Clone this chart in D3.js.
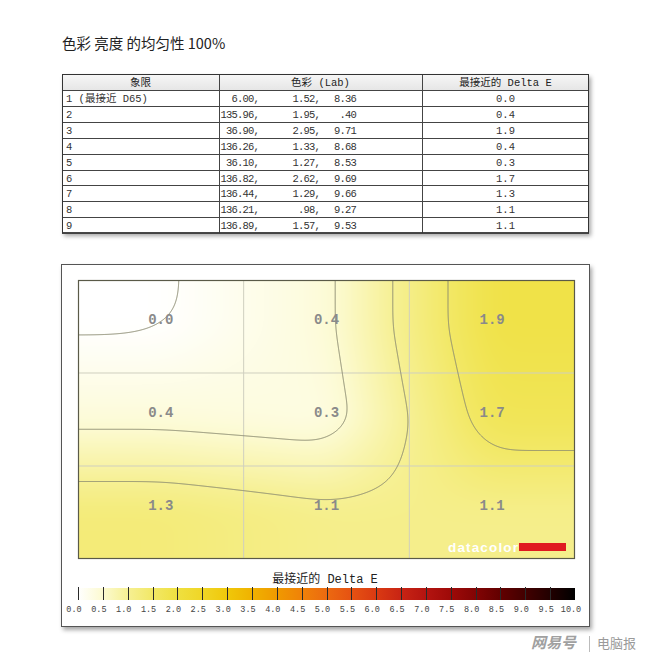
<!DOCTYPE html>
<html><head><meta charset="utf-8">
<script src="https://cdn.jsdelivr.net/npm/d3@7"></script>
<style>
html,body{margin:0;padding:0;background:#fff;}
svg{display:block;}
</style></head>
<body>
<svg id="c" width="660" height="662"></svg>
<script>
// ---------- data ----------
const title = "色彩 亮度 的均匀性 100%";
const headers = ["象限", "色彩 (Lab)", "最接近的 Delta E"];
const quadrants = ["1 (最接近 D65)", "2", "3", "4", "5", "6", "7", "8", "9"];
const labL = ["6.00,", "135.96,", "36.90,", "136.26,", "36.10,", "136.82,", "136.44,", "136.21,", "136.89,"];
const labA = ["1.52,", "1.95,", "2.95,", "1.33,", "1.27,", "2.62,", "1.29,", ".98,", "1.57,"];
const labB = ["8.36", ".40", "9.71", "8.68", "8.53", "9.69", "9.66", "9.27", "9.53"];
const deltaE = [0.0, 0.4, 1.9, 0.4, 0.3, 1.7, 1.3, 1.1, 1.1];
const contourLevels = [0.5, 1.0, 1.5];
const nearLevel = [0.06];
const legendTicks = d3.range(0, 10.001, 0.5);
const legendTitle = "最接近的 Delta E";
const colorStops = [0, 0.5, 1, 1.5, 2, 2.5, 3, 3.5, 4, 4.5, 5, 5.5, 6, 6.5, 7, 7.5, 8, 8.5, 9, 9.5, 10];
const colorValues = ["#ffffff", "#fcfad0", "#f6f094", "#f2e866", "#efe040", "#f0d626", "#f0c80a", "#f0b200", "#f09a00", "#f08208", "#ec6a10", "#e65212", "#da3a12", "#c82414", "#b41410", "#9e0a08", "#820404", "#620000", "#420000", "#220000", "#000000"];

// ---------- setup ----------
const svg = d3.select("#c");
const defs = svg.append("defs");
const sh = defs.append("filter").attr("id", "shadow").attr("x", "-5%").attr("y", "-5%").attr("width", "112%").attr("height", "115%");
sh.append("feDropShadow").attr("dx", 2).attr("dy", 3).attr("stdDeviation", 2).attr("flood-color", "#000").attr("flood-opacity", 0.35);

const color = d3.scaleLinear().domain(colorStops).range(colorValues).clamp(true);

svg.append("text").attr("x", 62).attr("y", 49).text(title)
  .attr("font-family", "'Noto Sans CJK SC', 'Noto Sans', sans-serif").attr("font-size", 14.5).attr("fill", "#222");

// ---------- table ----------
const tbl = {x0: 62, x1: 589, y0: 74, headH: 16, rowH: 15.9};
const colEdges = [62, 219, 422, 589];
const tg = svg.append("g");
const tblH = tbl.headH + quadrants.length * tbl.rowH;
tg.append("rect").attr("x", tbl.x0).attr("y", tbl.y0).attr("width", tbl.x1 - tbl.x0).attr("height", tblH)
  .attr("fill", "#fff").attr("filter", "url(#shadow)");
const hg = defs.append("linearGradient").attr("id", "hdr").attr("x1", 0).attr("x2", 0).attr("y1", 0).attr("y2", 1);
hg.append("stop").attr("offset", 0).attr("stop-color", "#f7f7f7");
hg.append("stop").attr("offset", 1).attr("stop-color", "#e6e6e6");
tg.append("rect").attr("x", tbl.x0).attr("y", tbl.y0).attr("width", tbl.x1 - tbl.x0).attr("height", tbl.headH).attr("fill", "url(#hdr)");
const fontT = "'Liberation Mono', 'Noto Sans CJK SC', monospace";
headers.forEach((h, i) => {
  tg.append("text").attr("x", (colEdges[i] + colEdges[i + 1]) / 2).attr("y", tbl.y0 + 12)
    .attr("text-anchor", "middle").attr("font-family", fontT).attr("font-size", 10.5).attr("fill", "#222").text(h);
});
const rowY = i => tbl.y0 + tbl.headH + i * tbl.rowH;
quadrants.forEach((q, i) => {
  const yy = rowY(i) + 12;
  tg.append("text").attr("x", 66).attr("y", yy).attr("font-family", fontT).attr("font-size", 10.5).attr("fill", "#333").text(q);
  tg.append("text").attr("x", 259).attr("y", yy).attr("text-anchor", "end").attr("font-family", fontT).attr("font-size", 10.5).attr("letter-spacing", -0.8).attr("fill", "#333").text(labL[i]);
  tg.append("text").attr("x", 320).attr("y", yy).attr("text-anchor", "end").attr("font-family", fontT).attr("font-size", 10.5).attr("letter-spacing", -0.8).attr("fill", "#333").text(labA[i]);
  tg.append("text").attr("x", 356).attr("y", yy).attr("text-anchor", "end").attr("font-family", fontT).attr("font-size", 10.5).attr("letter-spacing", -0.8).attr("fill", "#333").text(labB[i]);
  tg.append("text").attr("x", (colEdges[2] + colEdges[3]) / 2).attr("y", yy).attr("text-anchor", "middle").attr("font-family", fontT).attr("font-size", 10.5).attr("fill", "#333").text(deltaE[i].toFixed(1));
});
for (let i = 0; i <= quadrants.length; i++) {
  const yy = Math.round(rowY(i)) + 0.5;
  tg.append("line").attr("x1", tbl.x0).attr("x2", tbl.x1).attr("y1", yy).attr("y2", yy).attr("stroke", "#444").attr("stroke-width", 1);
}
colEdges.slice(1, 3).forEach(xx => {
  tg.append("line").attr("x1", xx + 0.5).attr("x2", xx + 0.5).attr("y1", tbl.y0).attr("y2", tbl.y0 + tblH).attr("stroke", "#444");
});
tg.append("rect").attr("x", tbl.x0 + 0.5).attr("y", tbl.y0 + 0.5).attr("width", tbl.x1 - tbl.x0 - 1).attr("height", tblH - 1)
  .attr("fill", "none").attr("stroke", "#333");

// ---------- chart frame ----------
svg.append("rect").attr("x", 61.5).attr("y", 264.5).attr("width", 528).attr("height", 362)
  .attr("fill", "#fff").attr("stroke", "#555").attr("filter", "url(#shadow)");

const plot = {x0: 78, x1: 575, y0: 280, y1: 559};
const x = d3.scaleLinear().domain([-0.5, 2.5]).range([plot.x0, plot.x1]);
const y = d3.scaleLinear().domain([-0.5, 2.5]).range([plot.y0, plot.y1]);
const grid = [0, 1, 2].map(r => deltaE.slice(r * 3, r * 3 + 3));

// bilinear interpolation between cell centres (edge-clamped), then smoothed
function field(tx, ty) {
  tx = Math.max(0, Math.min(2, tx)); ty = Math.max(0, Math.min(2, ty));
  const i = Math.min(1, Math.floor(tx)), j = Math.min(1, Math.floor(ty));
  const fx = tx - i, fy = ty - j;
  const a = grid[j][i] * (1 - fx) + grid[j][i + 1] * fx;
  const b = grid[j + 1][i] * (1 - fx) + grid[j + 1][i + 1] * fx;
  return a * (1 - fy) + b * fy;
}
const W = plot.x1 - plot.x0, H = plot.y1 - plot.y0;
const raw = new Float64Array(W * H);
for (let py = 0; py < H; py++)
  for (let px = 0; px < W; px++)
    raw[py * W + px] = field(x.invert(plot.x0 + px + 0.5), y.invert(plot.y0 + py + 0.5));

function boxPass(src, w, h, r, horiz) {
  const out = new Float64Array(w * h);
  const n = horiz ? w : h, m = horiz ? h : w;
  for (let k = 0; k < m; k++) {
    const idx = t => horiz ? k * w + Math.max(0, Math.min(w - 1, t)) : Math.max(0, Math.min(h - 1, t)) * w + k;
    let s = 0;
    for (let t = -r; t <= r; t++) s += src[idx(t)];
    for (let t = 0; t < n; t++) {
      out[horiz ? k * w + t : t * w + k] = s / (2 * r + 1);
      s += src[idx(t + r + 1)] - src[idx(t - r)];
    }
  }
  return out;
}
function smooth(src, rx, ry) {
  let v = src;
  for (let p = 0; p < 3; p++) { v = boxPass(v, W, H, rx, true); v = boxPass(v, W, H, ry, false); }
  return v;
}
const values = smooth(raw, 16, 10);
const wide = smooth(raw, 34, 22);

const canvas = document.createElement("canvas");
canvas.width = W; canvas.height = H;
const ctx = canvas.getContext("2d");
const img = ctx.createImageData(W, H);
for (let k = 0; k < W * H; k++) {
  const c = d3.rgb(color(values[k]));
  img.data[4 * k] = c.r; img.data[4 * k + 1] = c.g; img.data[4 * k + 2] = c.b; img.data[4 * k + 3] = 255;
}
ctx.putImageData(img, 0, 0);
defs.append("clipPath").attr("id", "pc").append("rect").attr("x", plot.x0).attr("y", plot.y0).attr("width", W).attr("height", H);
const pg = svg.append("g").attr("clip-path", "url(#pc)");
pg.append("image").attr("x", plot.x0).attr("y", plot.y0).attr("width", W).attr("height", H)
  .attr("href", canvas.toDataURL());

[0.5, 1.5].forEach(v => {
  pg.append("line").attr("x1", x(v)).attr("x2", x(v)).attr("y1", plot.y0).attr("y2", plot.y1).attr("stroke", "#cfcfbf").attr("stroke-width", 1);
  pg.append("line").attr("y1", y(v)).attr("y2", y(v)).attr("x1", plot.x0).attr("x2", plot.x1).attr("stroke", "#cfcfbf").attr("stroke-width", 1);
});

const cg = pg.append("g").attr("transform", `translate(${plot.x0},${plot.y0})`);
const contours = d3.contours().size([W, H]).thresholds(contourLevels)(Array.from(values))
  .concat(d3.contours().size([W, H]).thresholds(nearLevel)(Array.from(wide)));
cg.selectAll("path").data(contours).join("path")
  .attr("d", d3.geoPath())
  .attr("fill", "none").attr("stroke", "#8a8a70").attr("stroke-width", 1);

deltaE.forEach((v, k) => {
  const r = Math.floor(k / 3), c = k % 3;
  svg.append("text").attr("x", x(c)).attr("y", y(r) - 3).attr("text-anchor", "middle")
    .attr("font-family", "'Liberation Mono', 'DejaVu Sans Mono', monospace").attr("font-weight", "bold")
    .attr("font-size", 14).attr("fill", "#8a8a8a").text(v.toFixed(1));
});

svg.append("text").attr("x", 448).attr("y", 552).attr("font-family", "'Liberation Sans', Arial, sans-serif")
  .attr("font-weight", "bold").attr("font-size", 13.5).attr("fill", "#fff").attr("textLength", 70).text("datacolor");
svg.append("rect").attr("x", 519).attr("y", 543).attr("width", 47).attr("height", 8).attr("fill", "#e01a20");

svg.append("rect").attr("x", plot.x0 + 0.5).attr("y", plot.y0 + 0.5).attr("width", W - 1).attr("height", H - 1)
  .attr("fill", "none").attr("stroke", "#5a5a48").attr("stroke-width", 1.2);

// ---------- legend ----------
const lx = d3.scaleLinear().domain([0, 10]).range([78, 575]);
const lg = defs.append("linearGradient").attr("id", "lgrad");
colorStops.forEach((s, i) => lg.append("stop").attr("offset", s / 10).attr("stop-color", colorValues[i]));
svg.append("text").attr("x", 325).attr("y", 583).attr("text-anchor", "middle")
  .attr("font-family", fontT).attr("font-size", 12).attr("fill", "#222").text(legendTitle);
svg.append("rect").attr("x", lx(0)).attr("y", 588).attr("width", lx(10) - lx(0)).attr("height", 12).attr("fill", "url(#lgrad)");
const lax = svg.append("g");
lax.selectAll("line").data(legendTicks.slice(0, -1)).join("line")
  .attr("x1", d => Math.round(lx(d)) + 0.5).attr("x2", d => Math.round(lx(d)) + 0.5)
  .attr("y1", 587).attr("y2", 600).attr("stroke", "#2a2a2a").attr("stroke-width", 1);
lax.selectAll("text").data(legendTicks).join("text")
  .attr("x", d => lx(d) - 4).attr("y", 612).attr("text-anchor", "middle")
  .attr("font-family", "'Liberation Mono', monospace").attr("font-size", 8.5).attr("fill", "#444")
  .text(d => d.toFixed(1));

svg.append("text").attr("x", 531).attr("y", 648).attr("font-family", "'Noto Sans CJK SC', sans-serif")
  .attr("font-size", 15).attr("font-weight", "bold").attr("font-style", "italic").attr("fill", "#a0a0a0").text("网易号");
svg.append("line").attr("x1", 589.5).attr("x2", 589.5).attr("y1", 636).attr("y2", 652).attr("stroke", "#bbb");
svg.append("text").attr("x", 597).attr("y", 648).attr("font-family", "'Noto Sans CJK SC', sans-serif")
  .attr("font-size", 13).attr("fill", "#9a9a9a").text("电脑报");
</script>
</body></html>
